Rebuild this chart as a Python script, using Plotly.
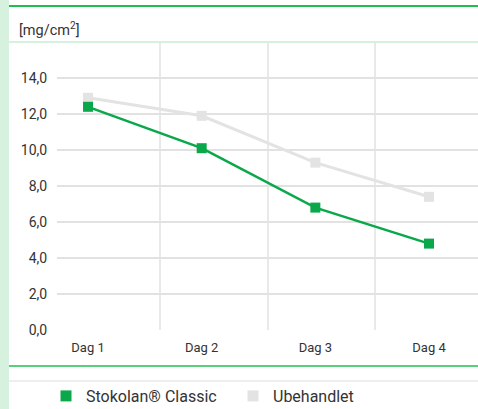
import plotly.graph_objects as go

categories = ["Dag 1", "Dag 2", "Dag 3", "Dag 4"]
stokolan = [12.4, 10.1, 6.8, 4.8]
ubehandlet = [12.9, 11.9, 9.3, 7.4]
y_ticks = [0, 2, 4, 6, 8, 10, 12, 14]
y_tick_labels = ["0,0", "2,0", "4,0", "6,0", "8,0", "10,0", "12,0", "14,0"]

GREEN = "#0aa84a"
GRAY = "#e3e3e3"
W, H = 478, 409
L, R, T, B = 57, 0, 42, 79
pw, ph = W - L - R, H - T - B

def px_x(x):
    return (x - L) / pw

def px_y(y):
    return (H - B - y) / ph

fig = go.Figure()
fig.add_trace(go.Scatter(x=categories, y=ubehandlet, mode="lines+markers",
                         line=dict(color=GRAY, width=3),
                         marker=dict(symbol="square", size=10, color=GRAY),
                         showlegend=False, name="Ubehandlet"))
fig.add_trace(go.Scatter(x=categories, y=stokolan, mode="lines+markers",
                         line=dict(color=GREEN, width=2.5),
                         marker=dict(symbol="square", size=10, color=GREEN),
                         showlegend=False, name="Stokolan® Classic"))
fig.add_trace(go.Scatter(x=[None], y=[None], mode="markers", name="Stokolan® Classic",
                         marker=dict(symbol="square", size=11, color=GREEN)))
fig.add_trace(go.Scatter(x=[None], y=[None], mode="markers", name="Ubehandlet",
                         marker=dict(symbol="square", size=11, color=GRAY)))

shapes = []
shapes.append(dict(type="rect", xref="paper", yref="paper", x0=px_x(0), x1=px_x(9),
                   y0=px_y(H), y1=px_y(0), fillcolor="#d6f1dd", line=dict(width=0), layer="below"))
shapes.append(dict(type="line", xref="paper", yref="paper", x0=px_x(9), x1=px_x(W),
                   y0=px_y(6), y1=px_y(6), line=dict(color="#1fbf4f", width=2)))
shapes.append(dict(type="line", xref="paper", yref="paper", x0=px_x(9), x1=px_x(W),
                   y0=px_y(42), y1=px_y(42), line=dict(color="#d6f1dd", width=2)))
shapes.append(dict(type="line", xref="paper", yref="paper", x0=px_x(9), x1=px_x(W),
                   y0=px_y(366), y1=px_y(366), line=dict(color="#1fbf4f", width=1.5)))
shapes.append(dict(type="line", xref="paper", yref="paper", x0=px_x(9), x1=px_x(W),
                   y0=px_y(381), y1=px_y(381), line=dict(color="#eeeeee", width=2)))
for xp in [160, 268, 375]:
    shapes.append(dict(type="line", xref="paper", yref="paper", x0=px_x(xp), x1=px_x(xp),
                       y0=0, y1=1, line=dict(color="#e2e2e2", width=1.5), layer="below"))

fig.update_layout(
    width=W, height=H,
    margin=dict(l=L, r=R, t=T, b=B, pad=0, autoexpand=False),
    paper_bgcolor="white", plot_bgcolor="white",
    font=dict(family="Roboto", size=13, color="#333333"),
    shapes=shapes,
    showlegend=True,
    legend=dict(orientation="h", x=px_x(46), y=px_y(396), xanchor="left", yanchor="middle",
                bgcolor="rgba(0,0,0,0)", entrywidth=142,
                font=dict(size=16, color="#333333"), itemwidth=30, tracegroupgap=0),
    annotations=[dict(text="[mg/cm<sup>2</sup>]", xref="paper", yref="paper",
                      x=px_x(17), y=px_y(29), xanchor="left", yanchor="middle",
                      showarrow=False, font=dict(size=14.5, color="#333333"))],
)
fig.update_xaxes(type="category", range=[-0.273, 3.431], showgrid=False, zeroline=False,
                 showline=False, ticks="outside", ticklen=5, tickcolor="rgba(0,0,0,0)",
                 tickfont=dict(size=13, color="#333333"), fixedrange=True)
fig.update_yaxes(range=[0, 16], tickvals=y_ticks, ticktext=y_tick_labels, showgrid=True,
                 gridcolor="#e2e2e2", gridwidth=1.5, zeroline=False, showline=False,
                 ticks="outside", ticklen=6, tickcolor="rgba(0,0,0,0)",
                 tickfont=dict(size=14, color="#333333"), fixedrange=True)

fig.write_html("out.html", config={"displayModeBar": False},
               post_script="document.body.style.margin='0';")
